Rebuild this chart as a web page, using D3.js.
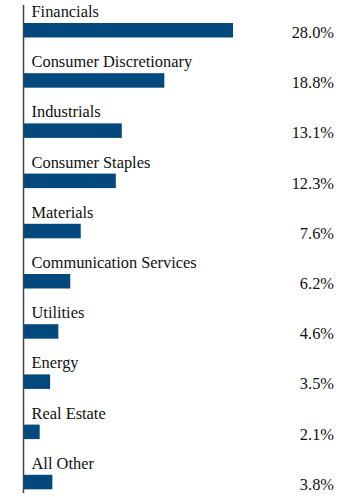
<!DOCTYPE html>
<html><head><meta charset="utf-8">
<script src="https://cdn.jsdelivr.net/npm/d3@7"></script>
<style>html,body{margin:0;padding:0;background:#fff;}svg{display:block;}
text{font-family:"Liberation Serif","Times New Roman",Times,serif;font-size:16.4px;fill:#111;}</style>
</head><body>
<svg id="c" width="360" height="497"></svg>
<script>
const categories = ["Financials","Consumer Discretionary","Industrials","Consumer Staples","Materials","Communication Services","Utilities","Energy","Real Estate","All Other"];
const values = [28.0,18.8,13.1,12.3,7.6,6.2,4.6,3.5,2.1,3.8];
const valueLabels = ["28.0%","18.8%","13.1%","12.3%","7.6%","6.2%","4.6%","3.5%","2.1%","3.8%"];

const svg = d3.select("#c");
const x = d3.scaleLinear().domain([0, 28]).range([24, 233]);
const y = d3.scaleBand().domain(categories).range([0, 502]).paddingInner(0);

const g = svg.selectAll("g.row").data(categories).enter().append("g").attr("class","row")
  .attr("transform", d => `translate(0,${y(d)})`);

g.append("rect")
  .attr("x", x(0))
  .attr("y", 23)
  .attr("width", (d,i) => x(values[i]) - x(0))
  .attr("height", 14.5)
  .attr("fill", "#03497e");

g.append("text")
  .attr("x", 31.5).attr("y", 17)
  .text(d => d);

g.append("text")
  .attr("x", 334).attr("y", 38)
  .attr("text-anchor", "end")
  .text((d,i) => valueLabels[i]);

svg.append("line")
  .attr("x1", 23.5).attr("x2", 23.5).attr("y1", 5).attr("y2", 493)
  .attr("stroke", "#444").attr("stroke-width", 1.5);
</script>
</body></html>
